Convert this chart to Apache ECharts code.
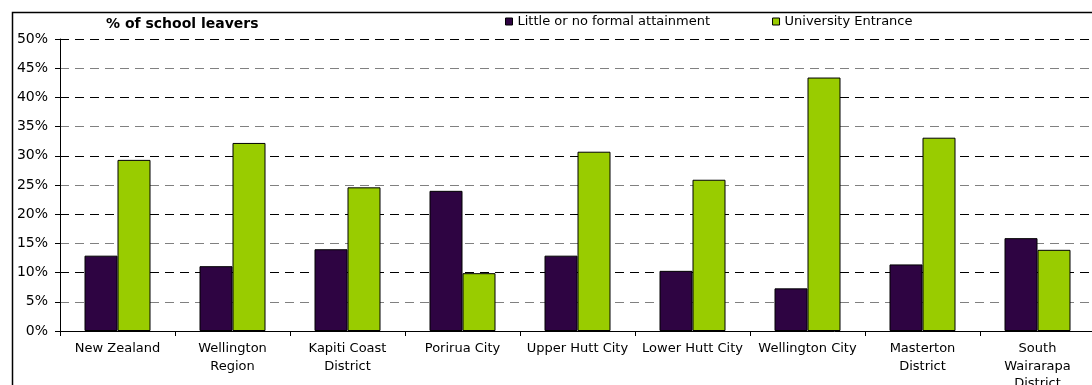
<!DOCTYPE html>
<html>
<head>
<meta charset="utf-8">
<script src="https://cdn.jsdelivr.net/npm/echarts@6/dist/echarts.min.js"></script>
<style>
  html, body { margin: 0; padding: 0; background: #fff; }
  #chart { width: 1092px; height: 385px; }
</style>
</head>
<body>
<div id="chart"></div>
<script>
// School leaver attainment by area (% of school leavers)
const categories = [
  'New Zealand', 'Wellington\nRegion', 'Kapiti Coast\nDistrict', 'Porirua City',
  'Upper Hutt City', 'Lower Hutt City', 'Wellington City', 'Masterton\nDistrict',
  'South\nWairarapa\nDistrict'
];
const seriesNames = ['Little or no formal attainment', 'University Entrance'];
const littleOrNone = [12.9, 11.1, 14.0, 24.0, 12.9, 10.3, 7.3, 11.4, 15.9];
const universityEntrance = [29.3, 32.2, 24.6, 9.9, 30.7, 25.9, 43.4, 33.1, 13.9];
const yTicks = { min: 0, max: 50, interval: 5 };

const FONT = 'DejaVu Sans';
const chart = echarts.init(document.getElementById('chart'), null, { renderer: 'canvas' });

chart.setOption({
  animation: false,
  backgroundColor: '#fff',
  graphic: [
    {
      type: 'rect',
      shape: { x: 12.5, y: 12.5, width: 1200, height: 500 },
      style: { fill: 'none', stroke: '#000', lineWidth: 1.5 },
      z: 100
    },
    {
      type: 'text',
      left: 106, top: 17,
      style: { text: '% of school leavers', font: 'bold 14px "DejaVu Sans"', fill: '#000' }
    }
  ],
  legend: {
    left: 505, top: 15, padding: 0,
    itemWidth: 7, itemHeight: 7, itemGap: 62,
    icon: 'rect',
    textStyle: { fontFamily: FONT, fontSize: 13, color: '#000' },
    itemStyle: { borderColor: '#000', borderWidth: 1 },
    data: seriesNames
  },
  grid: {
    left: 60, top: 39, width: 1035, height: 292,
    containLabel: false, outerBoundsMode: 'none'
  },
  xAxis: {
    type: 'category',
    data: categories,
    axisLine: { lineStyle: { color: '#000', width: 1 } },
    axisTick: { show: true, length: 5, inside: false, alignWithLabel: false, lineStyle: { color: '#000' } },
    axisLabel: {
      interval: 0, margin: 9, hideOverlap: false,
      fontFamily: FONT, fontSize: 13, color: '#000', lineHeight: 17.5, align: 'center'
    }
  },
  yAxis: {
    type: 'value',
    min: yTicks.min, max: yTicks.max, interval: yTicks.interval,
    axisLine: { show: true, lineStyle: { color: '#000', width: 1 } },
    axisTick: { show: true, length: 5, lineStyle: { color: '#000' } },
    axisLabel: {
      formatter: '{value}%', margin: 12,
      fontFamily: FONT, fontSize: 14, color: '#000'
    },
    splitLine: {
      show: true,
      lineStyle: { color: ['#000', '#808080'], width: 1, type: [9, 6] }
    }
  },
  series: [
    {
      name: seriesNames[0],
      type: 'bar',
      data: littleOrNone,
      barWidth: 33,
      barGap: '0%',
      itemStyle: { color: '#2E0442', borderColor: '#000', borderWidth: 1 }
    },
    {
      name: seriesNames[1],
      type: 'bar',
      data: universityEntrance,
      barWidth: 33,
      barGap: '0%',
      itemStyle: { color: '#99CC00', borderColor: '#000', borderWidth: 1 }
    }
  ]
});
</script>
</body>
</html>
